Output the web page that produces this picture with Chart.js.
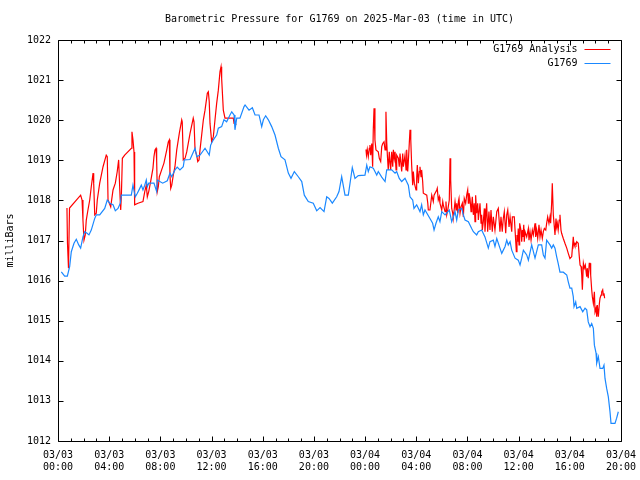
<!DOCTYPE html>
<html><head><meta charset="utf-8">
<style>html,body{margin:0;padding:0;background:#fff;} canvas{display:block;}</style>
<script src="https://cdn.jsdelivr.net/npm/chart.js@4.4.1/dist/chart.umd.min.js"></script>
</head><body>
<canvas id="c" width="640" height="480"></canvas>
<script>
const titleText = 'Barometric Pressure for G1769 on 2025-Mar-03 (time in UTC)';
const yAxisLabel = 'milliBars';
const seriesNames = ['G1769 Analysis', 'G1769'];
const xTickHours = [0, 4, 8, 12, 16, 20, 24, 28, 32, 36, 40, 44];
const xTickDates = ['03/03','03/03','03/03','03/03','03/03','03/03','03/04','03/04','03/04','03/04','03/04','03/04'];
const xTickTimes = ['00:00','04:00','08:00','12:00','16:00','20:00','00:00','04:00','08:00','12:00','16:00','20:00'];
const yTickValues = [1012, 1013, 1014, 1015, 1016, 1017, 1018, 1019, 1020, 1021, 1022];

const stationHours = [0.26,0.52,0.73,0.91,1.04,1.25,1.43,1.62,1.77,1.95,2.09,2.27,2.42,2.60,2.87,2.99,3.26,3.65,3.85,4.04,4.30,4.48,4.69,4.87,4.95,5.73,5.86,6.04,6.20,6.39,6.51,6.64,6.78,6.90,6.98,7.09,7.50,7.71,7.76,8.18,8.54,8.75,8.89,9.14,9.32,9.53,9.79,9.87,10.32,10.71,10.84,11.10,11.49,11.82,11.93,12.14,12.40,12.53,12.79,12.97,13.18,13.44,13.58,13.76,13.83,13.97,14.22,14.54,14.62,14.93,15.19,15.40,15.71,15.92,16.05,16.23,16.44,16.70,16.96,17.22,17.43,17.74,18.00,18.21,18.47,18.78,19.05,19.25,19.56,19.95,20.22,20.48,20.79,21.00,21.18,21.44,21.78,21.96,22.17,22.43,22.69,23.00,23.21,23.47,23.99,24.13,24.25,24.38,24.64,24.77,24.91,25.03,25.30,25.56,25.69,26.08,26.34,26.47,26.67,26.86,27.12,27.38,27.51,27.72,27.82,28.03,28.29,28.42,28.55,28.68,29.07,29.28,29.39,29.54,29.72,29.85,29.99,30.25,30.58,30.77,31.03,31.16,31.29,31.55,31.68,31.81,32.07,32.33,32.46,32.72,32.85,33.11,33.37,33.63,33.76,34.02,34.15,34.29,34.54,34.68,34.94,35.07,35.19,35.33,35.46,35.72,35.97,36.11,36.24,36.37,36.63,36.76,37.02,37.28,37.54,37.80,37.93,38.06,38.19,38.45,38.58,38.71,38.84,38.97,39.09,39.23,39.49,39.76,39.88,40.01,40.15,40.27,40.33,40.46,40.54,40.80,41.01,41.19,41.32,41.44,41.58,41.71,41.84,41.92,42.05,42.10,42.23,42.36,42.57,42.67,42.75,42.88,43.01,43.14,43.22,43.53,43.66,43.79];
const stationValues = [1016.22,1016.11,1016.11,1016.35,1016.72,1016.93,1017.03,1016.89,1016.81,1017.09,1017.22,1017.18,1017.14,1017.26,1017.55,1017.64,1017.64,1017.80,1018.01,1017.93,1017.89,1017.74,1017.80,1017.93,1018.13,1018.13,1018.38,1018.09,1018.18,1018.30,1018.38,1018.26,1018.38,1018.51,1018.34,1018.43,1018.43,1018.22,1018.51,1018.43,1018.49,1018.68,1018.59,1018.76,1018.83,1018.76,1018.84,1019.01,1019.02,1019.30,1019.09,1019.13,1019.30,1019.13,1019.38,1019.51,1019.63,1019.80,1019.84,1020.01,1019.96,1020.13,1020.21,1020.13,1019.76,1020.05,1020.05,1020.34,1020.38,1020.25,1020.31,1020.13,1020.13,1019.84,1020.01,1020.11,1020.01,1019.84,1019.63,1019.30,1019.09,1019.01,1018.68,1018.55,1018.72,1018.59,1018.47,1018.13,1017.97,1017.93,1017.74,1017.82,1017.72,1018.09,1018.05,1017.93,1018.09,1018.22,1018.59,1018.13,1018.13,1018.82,1018.55,1018.62,1018.63,1018.88,1018.72,1018.84,1018.80,1018.72,1018.63,1018.72,1018.58,1018.47,1018.76,1018.76,1018.68,1018.72,1018.55,1018.47,1018.55,1018.38,1018.09,1018.01,1017.80,1017.89,1017.72,1017.89,1017.64,1017.76,1017.55,1017.43,1017.26,1017.43,1017.59,1017.47,1017.72,1017.64,1017.76,1017.47,1017.72,1017.51,1017.76,1017.80,1017.64,1017.51,1017.47,1017.30,1017.22,1017.14,1017.22,1017.26,1017.09,1016.81,1016.97,1017.01,1016.85,1017.05,1016.81,1016.68,1016.85,1017.01,1016.89,1016.97,1016.76,1016.56,1016.51,1016.39,1016.56,1016.76,1016.64,1016.51,1016.89,1016.56,1016.89,1016.89,1016.64,1016.56,1017.01,1016.89,1016.81,1016.89,1016.81,1016.60,1016.43,1016.21,1016.21,1016.14,1015.97,1015.81,1015.81,1015.60,1015.35,1015.47,1015.31,1015.35,1015.22,1015.31,1015.27,1014.97,1014.85,1014.93,1014.81,1014.39,1014.19,1013.94,1014.10,1013.81,1013.81,1013.89,1013.56,1013.31,1013.10,1012.73,1012.44,1012.44,1012.57,1012.73];

const analysisHours = [0.70,0.74,0.82,0.90,1.77,1.88,1.95,2.03,2.13,2.21,2.34,2.48,2.60,2.74,2.79,2.87,2.99,3.07,3.26,3.52,3.77,3.85,3.91,4.12,4.30,4.48,4.63,4.74,4.85,4.90,4.95,5.03,5.21,5.73,5.78,5.86,5.94,5.99,6.25,6.64,6.78,6.90,6.98,7.09,7.24,7.42,7.50,7.58,7.66,7.71,7.76,7.84,7.92,8.10,8.28,8.50,8.62,8.70,8.75,8.81,8.89,9.01,9.14,9.28,9.48,9.67,9.71,9.79,9.93,10.06,10.32,10.57,10.63,10.71,10.84,10.92,11.02,11.10,11.36,11.49,11.67,11.75,11.82,11.88,12.01,12.14,12.27,12.40,12.53,12.66,12.74,12.79,12.92,13.05,13.70,13.76,13.83,13.91,
19.00,
24.07,24.11,24.17,24.25,24.33,24.38,24.44,24.52,24.59,24.64,24.70,24.77,24.85,25.03,25.11,25.22,25.30,25.38,25.48,25.56,25.63,25.69,25.74,25.81,25.89,25.95,26.00,26.08,26.16,26.21,26.28,26.34,26.42,26.47,26.60,26.67,26.73,26.86,26.94,26.99,27.12,27.20,27.25,27.33,27.38,27.46,27.51,27.57,27.64,27.72,27.77,27.85,27.98,28.03,28.08,28.16,28.24,28.29,28.37,28.42,28.50,28.55,28.82,28.90,28.94,29.07,29.21,29.33,29.39,29.60,29.64,29.72,29.80,29.85,29.99,30.07,30.11,30.25,30.32,30.38,30.46,30.58,30.64,30.69,30.77,30.85,30.89,31.03,31.11,31.16,31.24,31.29,31.34,31.42,31.50,31.60,31.68,31.75,31.86,31.94,32.02,32.07,32.12,32.20,32.28,32.33,32.38,32.46,32.53,32.59,32.64,32.72,32.80,32.85,32.98,33.06,33.11,33.16,33.24,33.32,33.37,33.43,33.50,33.58,33.68,33.76,33.84,33.94,34.02,34.15,34.29,34.41,34.54,34.62,34.72,34.80,34.88,34.99,35.07,35.15,35.25,35.33,35.40,35.46,35.51,35.66,35.72,35.82,35.87,35.93,35.97,36.03,36.08,36.18,36.24,36.29,36.34,36.40,36.44,36.50,36.63,36.76,36.81,36.89,36.97,37.07,37.15,37.28,37.33,37.41,37.49,37.59,37.67,37.75,37.85,37.93,38.01,38.12,38.19,38.27,38.37,38.45,38.50,38.58,38.63,38.71,38.79,38.84,38.92,38.97,39.02,39.09,39.17,39.23,39.31,39.36,39.49,39.62,39.76,39.88,40.01,40.15,40.27,40.33,40.41,40.48,40.54,40.66,40.74,40.80,40.88,40.93,40.98,41.06,41.13,41.21,41.32,41.36,41.44,41.52,41.58,41.63,41.71,41.76,41.84,41.92,41.97,42.05,42.10,42.15,42.23,42.31,42.36,42.44,42.49,42.57,42.62,42.67,42.72];
const analysisValues = [1017.81,1016.94,1016.31,1017.81,1018.13,1018.01,1017.51,1017.01,1017.14,1017.51,1017.76,1018.01,1018.34,1018.68,1018.43,1017.64,1017.68,1018.01,1018.43,1018.84,1019.13,1019.09,1018.01,1017.84,1018.26,1018.43,1018.72,1019.01,1018.09,1017.76,1018.09,1019.05,1019.13,1019.30,1019.71,1019.51,1019.21,1017.89,1017.93,1017.97,1018.22,1018.38,1018.09,1018.22,1018.47,1018.80,1019.09,1019.26,1019.30,1019.01,1018.22,1018.34,1018.59,1018.76,1018.93,1019.26,1019.46,1019.51,1018.63,1018.30,1018.38,1018.63,1018.84,1019.26,1019.67,1020.01,1019.96,1019.01,1019.05,1019.21,1019.67,1020.05,1019.96,1019.26,1019.13,1018.97,1019.01,1019.26,1020.01,1020.25,1020.67,1020.71,1020.46,1019.92,1019.46,1019.59,1020.01,1020.42,1020.75,1021.21,1021.33,1021.04,1020.25,1020.05,1020.05,1019.92,1019.96,1019.88,
null,
1019.27,1019.13,1019.27,1019.09,1019.30,1019.38,1019.13,1019.42,1018.84,1019.76,1020.30,1019.51,1019.26,1019.21,1019.05,1018.97,1019.34,1019.42,1019.46,1019.26,1020.21,1019.46,1019.13,1018.76,1019.21,1018.93,1018.76,1019.21,1018.84,1019.26,1019.05,1019.21,1018.76,1019.13,1019.05,1018.84,1019.17,1018.72,1019.17,1018.84,1019.13,1018.76,1019.26,1018.72,1018.97,1019.46,1019.76,1019.51,1018.88,1018.38,1018.72,1018.43,1018.26,1018.55,1018.88,1018.43,1018.72,1018.84,1018.59,1018.76,1018.47,1018.18,1018.13,1017.93,1017.76,1017.76,1018.13,1017.97,1018.13,1018.26,1018.30,1018.01,1018.09,1017.93,1017.76,1017.97,1017.89,1017.72,1017.97,1017.64,1017.76,1018.01,1019.05,1018.51,1017.80,1017.68,1017.55,1017.97,1017.76,1017.93,1017.68,1017.97,1018.05,1017.68,1017.84,1017.93,1017.59,1018.05,1017.93,1018.13,1018.26,1017.93,1018.18,1018.05,1017.72,1017.89,1018.09,1017.64,1017.93,1017.47,1018.13,1017.68,1017.93,1017.51,1017.93,1017.43,1017.64,1017.26,1017.47,1017.80,1017.22,1017.55,1017.93,1017.22,1017.72,1017.26,1017.76,1017.22,1017.59,1017.26,1017.72,1017.80,1017.22,1017.59,1017.22,1017.55,1017.72,1017.18,1017.64,1017.76,1017.34,1017.59,1017.59,1017.22,1017.59,1017.59,1017.26,1016.72,1017.14,1016.97,1017.30,1016.89,1017.43,1017.26,1016.97,1017.26,1017.09,1017.39,1016.97,1017.22,1017.09,1017.30,1017.01,1017.22,1017.01,1017.26,1017.14,1017.43,1017.09,1017.26,1017.05,1017.39,1017.09,1017.26,1017.05,1017.22,1017.30,1017.26,1017.43,1017.59,1017.43,1017.59,1017.43,1017.93,1018.43,1017.64,1017.34,1017.14,1017.55,1017.34,1017.43,1017.26,1017.51,1017.64,1017.26,1017.18,1017.05,1016.93,1016.81,1016.68,1016.55,1016.60,1017.09,1016.85,1016.93,1016.89,1016.97,1016.93,1016.60,1016.39,1016.35,1016.14,1015.77,1016.43,1016.31,1016.39,1016.10,1016.31,1016.06,1016.43,1016.43,1016.14,1015.77,1015.60,1015.43,1015.72,1015.22,1015.31,1015.10,1015.39,1015.10,1015.43,1015.56,1015.64,1015.72,1015.77,1015.64,1015.68,1015.56];

const seriesColors = ['#ff0000', '#1a88ff'];
const FONT = "'DejaVu Sans Mono', 'Liberation Mono', monospace";
const toPoints = (xs, ys) => xs.map((x, i) => ({ x: x, y: ys[i] }));

const framePlugin = {
  id: 'frame',
  afterDraw(chart) {
    const ctx = chart.ctx;
    const a = chart.chartArea;
    const xs = chart.scales.x, ys = chart.scales.y;
    const L = Math.floor(a.left) + 0.5, R = Math.floor(a.right) + 0.5;
    const T = Math.floor(a.top) + 0.5, B = Math.floor(a.bottom) + 0.5;
    ctx.save();
    ctx.strokeStyle = '#000';
    ctx.lineWidth = 1;
    ctx.beginPath();
    ctx.rect(L, T, R - L, B - T);
    yTickValues.forEach(v => {
      const py = Math.round(ys.getPixelForValue(v)) + 0.5;
      ctx.moveTo(L, py); ctx.lineTo(L + 5, py);
      ctx.moveTo(R, py); ctx.lineTo(R - 5, py);
    });
    const first = xTickHours[0], last = xTickHours[xTickHours.length - 1];
    for (let h = first; h <= last; h++) {
      const px = Math.round(xs.getPixelForValue(h)) + 0.5;
      const len = xTickHours.includes(h) ? 5 : 3;
      ctx.moveTo(px, B); ctx.lineTo(px, B - len);
      ctx.moveTo(px, T); ctx.lineTo(px, T + len);
    }
    ctx.stroke();
    ctx.font = '10px ' + FONT;
    ctx.fillStyle = '#000';
    ctx.textAlign = 'right';
    ctx.textBaseline = 'middle';
    seriesNames.forEach((name, i) => {
      const yy = T + 9 + i * 14;
      ctx.fillText(name, R - 44, yy);
      ctx.strokeStyle = seriesColors[i];
      ctx.beginPath();
      ctx.moveTo(R - 37, Math.round(yy) - 0.5);
      ctx.lineTo(R - 11, Math.round(yy) - 0.5);
      ctx.stroke();
    });
    ctx.restore();
  }
};

new Chart(document.getElementById('c'), {
  type: 'line',
  data: {
    datasets: [
      {
        label: seriesNames[1],
        data: toPoints(stationHours, stationValues),
        borderColor: seriesColors[1],
        borderWidth: 1.2,
        pointRadius: 0,
        tension: 0,
        fill: false
      },
      {
        label: seriesNames[0],
        data: toPoints(analysisHours, analysisValues),
        borderColor: seriesColors[0],
        borderWidth: 1.2,
        pointRadius: 0,
        tension: 0,
        fill: false,
        spanGaps: false
      }
    ]
  },
  options: {
    responsive: false,
    animation: false,
    devicePixelRatio: 1,
    layout: { padding: { left: 0, right: 19, top: 0, bottom: 0 } },
    plugins: {
      legend: { display: false },
      tooltip: { enabled: false },
      title: {
        display: true,
        text: titleText,
        fullSize: false,
        color: '#000',
        font: { family: FONT, size: 10, weight: 'normal', lineHeight: 1.2 },
        padding: { top: 13, bottom: 15 }
      }
    },
    scales: {
      x: {
        type: 'linear',
        min: xTickHours[0],
        max: xTickHours[xTickHours.length - 1],
        grid: { display: false, drawTicks: false },
        border: { display: false },
        afterFit: s => { s.height = 39; s.paddingLeft = 0; s.paddingRight = 0; },
        afterBuildTicks: s => { s.ticks = xTickHours.map(v => ({ value: v })); },
        ticks: {
          autoSkip: false,
          maxRotation: 0,
          padding: 8,
          color: '#000',
          font: { family: FONT, size: 10, lineHeight: 1.2 },
          callback: v => {
            const i = xTickHours.indexOf(v);
            return i >= 0 ? [xTickDates[i], xTickTimes[i]] : '';
          }
        }
      },
      y: {
        type: 'linear',
        min: yTickValues[0],
        max: yTickValues[yTickValues.length - 1],
        grid: { display: false, drawTicks: false },
        border: { display: false },
        afterFit: s => { s.width = 58; },
        afterBuildTicks: s => { s.ticks = yTickValues.map(v => ({ value: v })); },
        title: {
          display: true,
          text: yAxisLabel,
          color: '#000',
          font: { family: FONT, size: 10, lineHeight: 1.2 },
          padding: { top: 4, bottom: 0 }
        },
        ticks: {
          padding: 7,
          color: '#000',
          font: { family: FONT, size: 10 },
          callback: v => String(v)
        }
      }
    }
  },
  plugins: [framePlugin]
});
</script>
</body></html>
